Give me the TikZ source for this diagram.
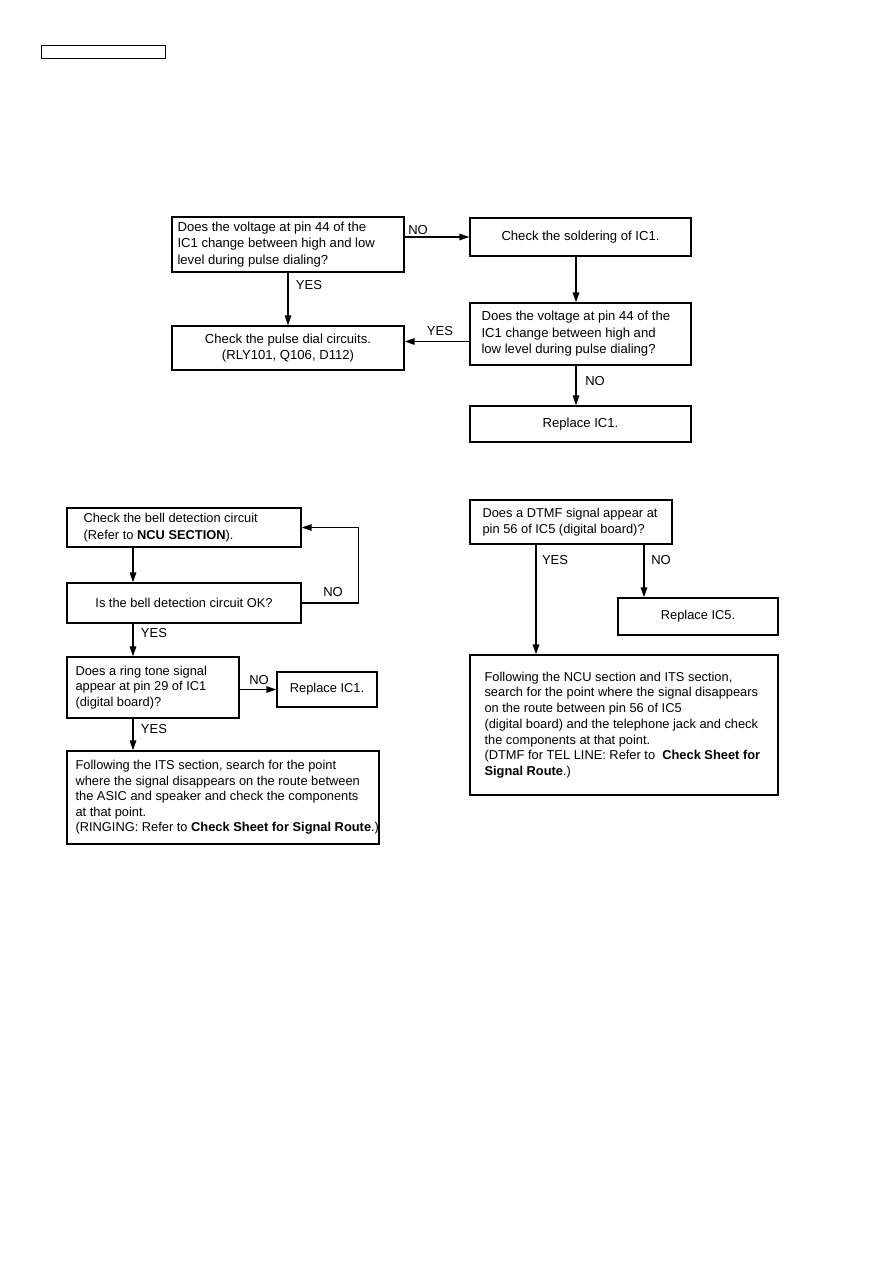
\documentclass[tikz,border=0pt]{standalone}
\usepackage{fontspec}
\setmainfont{Liberation Sans}
\usetikzlibrary{arrows.meta}
\begin{document}
\begin{tikzpicture}[x=1pt,y=-1pt,
  box/.style={draw,line width=1.3pt,inner sep=0pt,align=center,font=\fontsize{12.85}{15.5}\selectfont},
  topbox/.style={box,font=\fontsize{13.1}{16.5}\selectfont},
  txt/.style={anchor=west,inner sep=0pt,align=left,font=\fontsize{12.85}{15.5}\selectfont},
  toptxt/.style={txt,font=\fontsize{13.1}{16.5}\selectfont},
  arr/.style={line width=1.5pt,-{Triangle[length=10pt,width=6.5pt]}},
  lbl/.style={inner sep=0pt,font=\fontsize{13}{15}\selectfont}]
\useasboundingbox (0,0) rectangle (893,1263);
\node[draw,line width=1pt,minimum width=124pt,minimum height=13pt,inner sep=0pt] (hdr) at (103,52.5) {};
% pulse dialing
\node[topbox,minimum width=232pt,minimum height=55pt] (q1) at (288,244.5) {};
\node[toptxt] (q1T) at ([xshift=6pt]q1.west)
  {Does the voltage at pin 44 of the\\IC1 change between high and low\\level during pulse dialing?};
\node[topbox,minimum width=221pt,minimum height=38pt] (sold) at (580.5,237) {Check the soldering of IC1.};
\node[topbox,minimum width=221pt,minimum height=62pt] (q2) at (580.5,334) {};
\node[toptxt] (q2T) at ([xshift=12pt]q2.west)
  {Does the voltage at pin 44 of the\\IC1 change between high and\\low level during pulse dialing?};
\node[topbox,minimum width=232pt,minimum height=44pt] (dial) at (288,348) {Check the pulse dial circuits.\\(RLY101, Q106, D112)};
\node[topbox,minimum width=221pt,minimum height=36pt] (rep1) at (580.5,424) {Replace IC1.};
\draw[arr] (q1.east |- sold.west) -- (sold.west);
\draw[arr] ([xshift=-4.5pt]sold.south) -- ([xshift=-4.5pt]q2.north);
\draw[arr] (q1.south) -- (dial.north);
\draw[arr] ([yshift=-7.5pt]q2.west) -- ([yshift=6.5pt]dial.east);
\draw[arr] ([xshift=-4.5pt]q2.south) -- ([xshift=-4.5pt]rep1.north);
\node[lbl] (no1) at (418,230) {NO};
\node[lbl] (yes1) at (309,285) {YES};
\node[lbl] (yes2) at (440,331) {YES};
\node[lbl] (no2) at (595,381) {NO};
% ringing
\node[box,minimum width=234pt,minimum height=39pt] (bell) at (184,527.5) {};
\node[txt,font=\fontsize{12.85}{16.5}\selectfont] (bellT) at ([xshift=17pt]bell.west)
  {Check the bell detection circuit\\(Refer to \textbf{NCU SECTION}).};
\node[box,minimum width=234pt,minimum height=40pt] (bellok) at (184,603) {Is the bell detection circuit OK?};
\node[box,minimum width=172pt,minimum height=61pt] (ring) at (153,687.5) {};
\node[txt] (ringT) at ([xshift=9pt]ring.west)
  {Does a ring tone signal\\appear at pin 29 of IC1\\(digital board)?};
\node[box,minimum width=100pt,minimum height=35pt] (rep2) at (327,689.5) {Replace IC1.};
\node[box,minimum width=312pt,minimum height=93pt] (its) at (223,797.5) {};
\node[txt] (itsT) at ([xshift=9pt]its.west)
  {Following the ITS section, search for the point\\where the signal disappears on the route between\\the ASIC and speaker and check the components\\at that point.\\(RINGING: Refer to \textbf{Check Sheet for Signal Route}.)};
\coordinate (colL) at (133,0);
\draw[arr] (bell.south -| colL) -- (bellok.north -| colL);
\draw[arr] (bellok.east) -- ++(57,0) |- (bell.east);
\draw[arr] (bellok.south -| colL) -- (ring.north -| colL);
\draw[arr] (ring.east |- rep2.west) -- (rep2.west);
\draw[arr] (ring.south -| colL) -- (its.north -| colL);
\node[lbl] (no3) at (333,592) {NO};
\node[lbl] (yes3) at (154,633) {YES};
\node[lbl] (no4) at (259,680) {NO};
\node[lbl] (yes4) at (154,729) {YES};
% DTMF
\node[box,minimum width=202pt,minimum height=44pt] (dtmf) at (571,522) {};
\node[txt] (dtmfT) at ([xshift=13pt]dtmf.west)
  {Does a DTMF signal appear at\\pin 56 of IC5 (digital board)?};
\node[box,minimum width=160pt,minimum height=37pt] (rep5) at (698,616.5) {Replace IC5.};
\node[box,minimum width=308pt,minimum height=140pt] (ncu) at (624,725) {};
\node[txt,font=\fontsize{12.85}{15.7}\selectfont] (ncuT) at ([xshift=15pt]ncu.west)
  {Following the NCU section and ITS section,\\search for the point where the signal disappears\\on the route between pin 56 of IC5\\(digital board) and the telephone jack and check\\the components at that point.\\(DTMF for TEL LINE: Refer to \ \textbf{Check Sheet for}\\\textbf{Signal Route}.)};
\coordinate (colY) at (536,0);
\coordinate (colN) at (644,0);
\draw[arr] (dtmf.south -| colY) -- (ncu.north -| colY);
\draw[arr] (dtmf.south -| colN) -- (rep5.north -| colN);
\node[lbl] (yes5) at (555,560) {YES};
\node[lbl] (no5) at (661,560) {NO};
\end{tikzpicture}
\end{document}
